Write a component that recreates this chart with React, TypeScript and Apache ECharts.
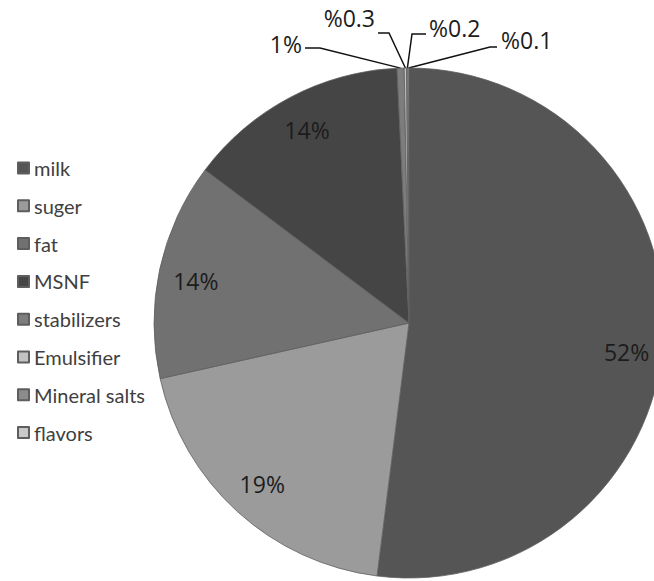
import React, { useEffect, useRef } from "react";
import * as echarts from "echarts";

const categories = ["milk", "suger", "fat", "MSNF", "stabilizers", "Emulsifier", "Mineral salts", "flavors"];
const values = [52, 19.5, 13.75, 14, 0.45, 0.15, 0.1, 0.05];
const labelTexts = ["52%", "19%", "14%", "14%", "1%", "%0.3", "%0.2", "%0.1"];
const colors = ["#555555", "#9b9b9b", "#717171", "#454545", "#7d7d7d", "#c2c2c2", "#8c8c8c", "#c9c9c9"];

// label placement (inside labels: fraction of radius; outside labels: text anchor)
const CENTER = [409, 323];
const RADIUS = 255;
const INNER_FRAC = 0.855;
const INNER_DY = [15, 0, 4, 0];
const OUTER_POS: { [k: number]: { x: number; y: number; align: string; lineY: number; bendX: number; endX: number } } = {
  4: { x: 302, y: 44, align: "right", lineY: 48, bendX: 320, endX: 305 },
  5: { x: 375, y: 18, align: "right", lineY: 33, bendX: 389, endX: 378 },
  6: { x: 429, y: 28, align: "left", lineY: 34, bendX: 412, endX: 426 },
  7: { x: 501, y: 40, align: "left", lineY: 47, bendX: 490, endX: 497 },
};

export default function App() {
  const ref = useRef<HTMLDivElement>(null);
  useEffect(() => {
    if (!ref.current) return;
    const chart = echarts.init(ref.current, undefined, { renderer: "svg" });
    const data = categories.map((name, i) => ({
      name,
      value: values[i],
      itemStyle: { color: colors[i] },
      label: i < 4 ? { position: "inside" } : { position: "outside" },
      labelLine: { show: i >= 4 },
    }));
    chart.setOption({
      animation: false,
      backgroundColor: "#ffffff",
      legend: {
        orient: "vertical",
        left: 12,
        top: 153,
        itemWidth: 11,
        itemHeight: 11,
        itemGap: 17.8,
        icon: "rect",
        data: categories,
        textStyle: { fontFamily: "Lato", fontSize: 20, color: "#404040" },
      },
      series: [
        {
          type: "pie",
          center: CENTER,
          radius: RADIUS,
          startAngle: 90,
          clockwise: true,
          avoidLabelOverlap: false,
          itemStyle: { borderColor: "#5e5e5e", borderWidth: 0.8 },
          label: {
            formatter: (p: any) => labelTexts[p.dataIndex],
            fontFamily: "Open Sans",
            fontSize: 23,
            color: "#1c1c1c",
          },
          labelLine: {
            lineStyle: { color: "#111111", width: 1.5 },
            length: 10,
            length2: 10,
          },
          labelLayout: (p: any) => {
            const i = p.dataIndex;
            if (i < 4) {
              const lx = p.labelRect.x + p.labelRect.width / 2;
              const ly = p.labelRect.y + p.labelRect.height / 2;
              const dx = lx - CENTER[0];
              const dy = ly - CENTER[1];
              const d = Math.sqrt(dx * dx + dy * dy) || 1;
              return {
                x: CENTER[0] + (dx / d) * RADIUS * INNER_FRAC,
                y: CENTER[1] + (dy / d) * RADIUS * INNER_FRAC + INNER_DY[i],
                align: "center",
                verticalAlign: "middle",
              };
            }
            const o = OUTER_POS[i];
            const start = p.labelLinePoints && p.labelLinePoints[0] ? p.labelLinePoints[0] : [CENTER[0], CENTER[1] - RADIUS];
            return {
              x: o.x,
              y: o.y,
              align: o.align,
              verticalAlign: "middle",
              labelLinePoints: [start, [o.bendX, o.lineY], [o.endX, o.lineY]],
            };
          },
          data,
        },
      ],
    });
    return () => chart.dispose();
  }, []);
  return <div ref={ref} style={{ position: "fixed", left: 0, top: 0, width: 654, height: 581 }} />;
}
